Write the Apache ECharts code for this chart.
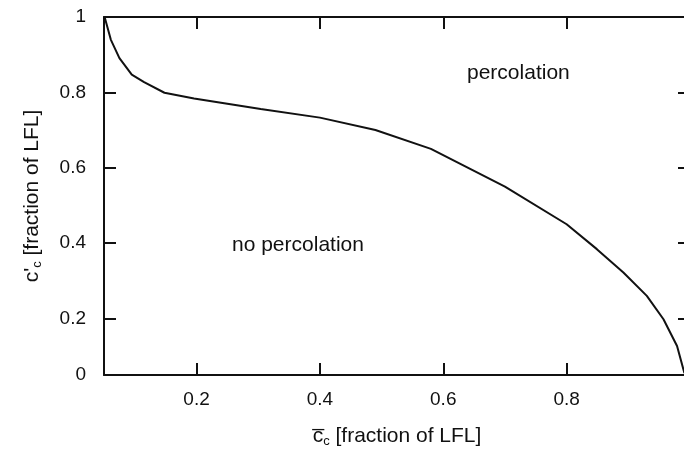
<!DOCTYPE html>
<html>
<head>
<meta charset="utf-8">
<script src="https://cdn.jsdelivr.net/npm/echarts@6/dist/echarts.min.js"></script>
<style>
  html, body { margin: 0; padding: 0; background: #fff; }
  #chart { width: 684px; height: 451px; }
</style>
</head>
<body>
<div id="chart"></div>
<script>
// Boundary curve between percolation / no percolation
const cBar = [0.051, 0.061, 0.075, 0.095, 0.115, 0.148, 0.196, 0.25, 0.304, 0.4, 0.49, 0.58, 0.7, 0.8, 0.849, 0.892, 0.930, 0.957, 0.979, 0.991];
const cPrime = [1.0, 0.94, 0.891, 0.847, 0.827, 0.799, 0.784, 0.770, 0.756, 0.733, 0.70, 0.65, 0.55, 0.45, 0.384, 0.322, 0.260, 0.198, 0.127, 0.055];

const xTicks = [0.2, 0.4, 0.6, 0.8];
const xTickLabels = ['0.2', '0.4', '0.6', '0.8'];
const yTicks = [0.2, 0.4, 0.6, 0.8, 1];
const yLabelValues = [0.05, 0.2, 0.4, 0.6, 0.8, 1];
const yTickLabels = ['0', '0.2', '0.4', '0.6', '0.8', '1'];
const xRange = [0.05, 1.0];
const yRange = [0.05, 1.0];

const FONT = '"Liberation Sans", Arial, sans-serif';
const INK = '#111';

const chart = echarts.init(document.getElementById('chart'), null, { renderer: 'canvas' });

function lbl(values, texts) {
  return function (v) {
    for (let i = 0; i < values.length; i++) {
      if (Math.abs(values[i] - v) < 1e-6) return texts[i];
    }
    return '';
  };
}

const axisLineStyle = { show: true, lineStyle: { color: INK, width: 2 } };
const tickStyle = { lineStyle: { color: INK, width: 2 } };

chart.setOption({
  animation: false,
  backgroundColor: '#fff',
  grid: { left: 104, top: 17, width: 586, height: 358, containLabel: false, outerBoundsMode: 'none' },
  xAxis: [
    {
      type: 'value', position: 'bottom', min: xRange[0], max: xRange[1],
      axisLine: axisLineStyle,
      axisTick: { show: true, inside: true, length: 12, customValues: xTicks, ...tickStyle },
      axisLabel: { show: true, customValues: xTicks, formatter: lbl(xTicks, xTickLabels),
        color: INK, fontFamily: FONT, fontSize: 19, margin: 15 },
      splitLine: { show: false },
      name: '{bar|c\u0305}{sub|c}{n| [fraction of LFL]}',
      nameLocation: 'middle', nameGap: 50,
      nameTextStyle: {
        rich: {
          bar: { fontFamily: FONT, fontSize: 21, color: INK },
          sub: { fontFamily: FONT, fontSize: 13, color: INK, verticalAlign: 'bottom', padding: [10, 0, 0, 0] },
          n: { fontFamily: FONT, fontSize: 21, color: INK }
        }
      }
    },
    {
      type: 'value', position: 'top', min: xRange[0], max: xRange[1],
      axisLine: axisLineStyle,
      axisTick: { show: true, inside: true, length: 12, customValues: xTicks, ...tickStyle },
      axisLabel: { show: false },
      splitLine: { show: false }
    }
  ],
  yAxis: [
    {
      type: 'value', position: 'left', min: yRange[0], max: yRange[1],
      axisLine: axisLineStyle,
      axisTick: { show: true, inside: true, length: 12, customValues: yTicks, ...tickStyle },
      axisLabel: { show: true, customValues: yLabelValues, formatter: lbl(yLabelValues, yTickLabels),
        color: INK, fontFamily: FONT, fontSize: 19, margin: 18 },
      splitLine: { show: false },
      name: "{n|c'}{sub|c}{n| [fraction of LFL]}",
      nameLocation: 'middle', nameGap: 60, nameRotate: 90,
      nameTextStyle: {
        rich: {
          n: { fontFamily: FONT, fontSize: 21, color: INK },
          sub: { fontFamily: FONT, fontSize: 13, color: INK, verticalAlign: 'bottom', padding: [10, 0, 0, 0] }
        }
      }
    },
    {
      type: 'value', position: 'right', min: yRange[0], max: yRange[1],
      axisLine: axisLineStyle,
      axisTick: { show: true, inside: true, length: 12, customValues: yTicks, ...tickStyle },
      axisLabel: { show: false },
      splitLine: { show: false }
    }
  ],
  series: [
    {
      type: 'line',
      data: cBar.map((x, i) => [x, cPrime[i]]),
      showSymbol: false,
      symbol: 'none',
      smooth: false,
      lineStyle: { color: INK, width: 2 },
      clip: true
    }
  ],
  graphic: [
    { type: 'text', left: 467, top: 63, style: { text: 'percolation', fill: INK, font: '21px ' + FONT } },
    { type: 'text', left: 232, top: 235, style: { text: 'no percolation', fill: INK, font: '21px ' + FONT } }
  ]
});
</script>
</body>
</html>
